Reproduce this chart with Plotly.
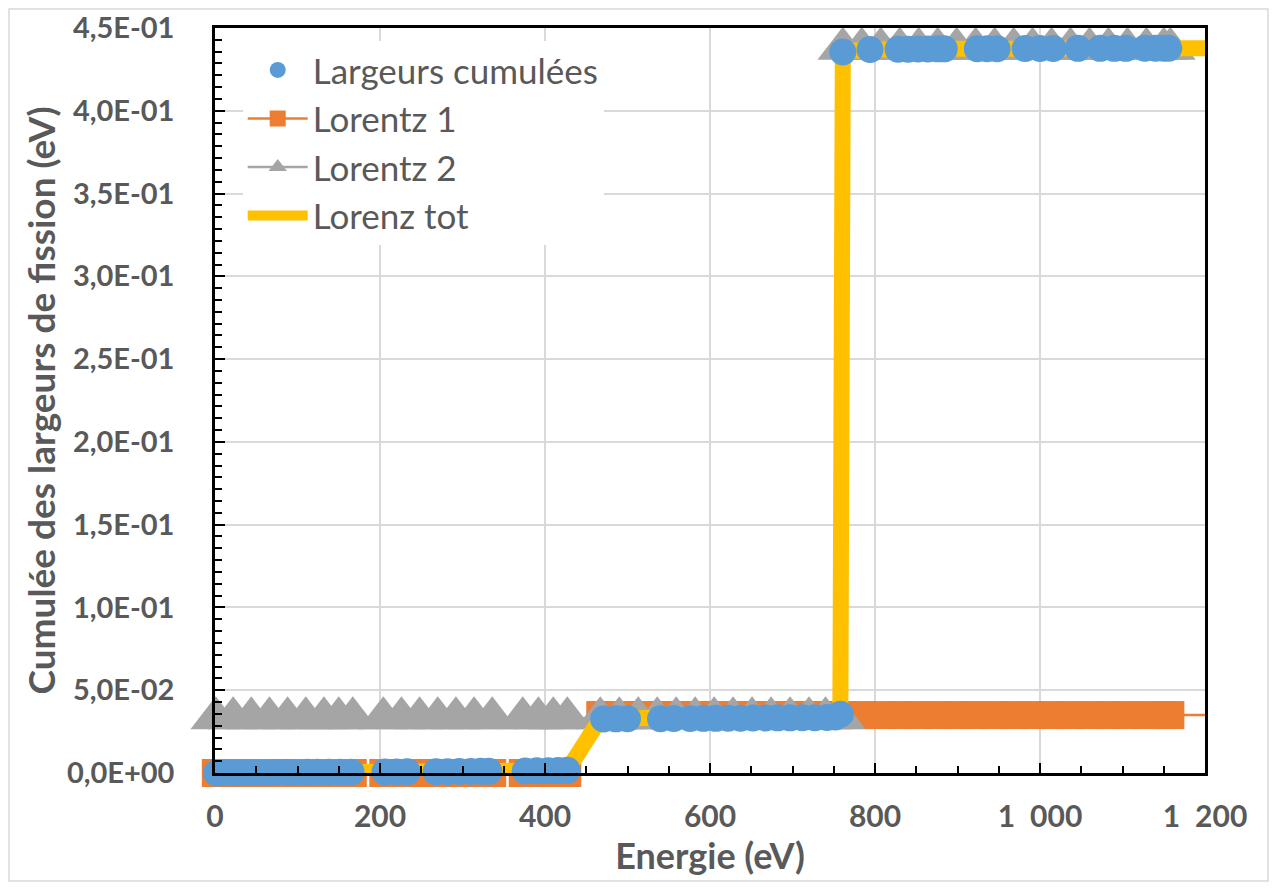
import plotly.graph_objects as go

# ---------------- data ----------------
# Largeurs cumulées (blue circles): resonance energies (eV) and cumulative fission widths (eV)
E_cum = [2, 12, 24, 36, 48, 60, 72, 86, 98, 112, 124, 138, 152, 165,
         206, 220, 233, 268, 282, 296, 310, 322, 332,
         376, 390, 404, 416, 427,
         471, 486, 500, 540, 556, 576, 592, 607, 622, 637, 652, 667, 682, 697, 712, 727, 742, 752, 758,
         761, 794, 828, 840, 852, 864, 876, 884, 924, 936, 948, 982, 1000, 1016, 1046, 1073, 1090,
         1104, 1127, 1140, 1150, 1156]
cum = [0.0000, 0.0001, 0.0001, 0.0002, 0.0002, 0.0002, 0.0003, 0.0003, 0.0003, 0.0004, 0.0004, 0.0004, 0.0005, 0.0005,
       0.0006, 0.0006, 0.0007, 0.0008, 0.0008, 0.0009, 0.0009, 0.0010, 0.0010,
       0.0012, 0.0013, 0.0014, 0.0015, 0.0016,
       0.0326, 0.0327, 0.0328, 0.0328, 0.0329, 0.0329, 0.0330, 0.0330, 0.0331, 0.0331, 0.0332, 0.0332,
       0.0333, 0.0333, 0.0334, 0.0334, 0.0335, 0.0338, 0.0355,
       0.4355, 0.4370, 0.4372, 0.4372, 0.4373, 0.4373, 0.4374, 0.4374, 0.4375, 0.4375, 0.4375, 0.4376,
       0.4376, 0.4376, 0.4377, 0.4377, 0.4377, 0.4377, 0.4378, 0.4378, 0.4378, 0.4378]

# Lorentz curves evaluated on an energy grid (eV)
E_lor = [1, 22, 44, 66, 88, 110, 132, 150, 167,
         204, 226, 248, 270, 292, 314, 336,
         373, 392, 410, 427,
         467, 490, 513, 536, 559, 582, 605, 628, 651, 674, 697, 720, 740, 758,
         761, 784, 807, 830, 853, 876, 899, 922, 945, 968, 991, 1014, 1037, 1060, 1083, 1106, 1129, 1150, 1158,
         1250]
lorentz1 = [0.0, 0.0, 0.0, 0.0, 0.0, 0.0, 0.0, 0.0, 0.0,
            0.0, 0.0, 0.0, 0.0, 0.0, 0.0, 0.0,
            0.0, 0.0, 0.0, 0.0,
            0.035, 0.035, 0.035, 0.035, 0.035, 0.035, 0.035, 0.035, 0.035, 0.035, 0.035, 0.035, 0.035, 0.035,
            0.035, 0.035, 0.035, 0.035, 0.035, 0.035, 0.035, 0.035, 0.035, 0.035, 0.035, 0.035, 0.035, 0.035,
            0.035, 0.035, 0.035, 0.035, 0.035,
            0.035]
lorentz2 = [0.033, 0.033, 0.033, 0.033, 0.033, 0.033, 0.033, 0.033, 0.033,
            0.033, 0.033, 0.033, 0.033, 0.033, 0.033, 0.033,
            0.033, 0.033, 0.033, 0.033,
            0.033, 0.033, 0.033, 0.033, 0.033, 0.033, 0.033, 0.033, 0.033, 0.033, 0.033, 0.033, 0.033, 0.033,
            0.4375, 0.4375, 0.4375, 0.4375, 0.4375, 0.4375, 0.4375, 0.4375, 0.4375, 0.4375, 0.4375, 0.4375,
            0.4375, 0.4375, 0.4375, 0.4375, 0.4375, 0.4375, 0.4375,
            None]
lorenz_tot = [0.0, 0.0001, 0.0002, 0.0002, 0.0003, 0.0003, 0.0004, 0.0004, 0.0005,
              0.0006, 0.0007, 0.0008, 0.0008, 0.0009, 0.0010, 0.0010,
              0.0012, 0.0013, 0.0015, 0.0016,
              0.0327, 0.0328, 0.0328, 0.0329, 0.0329, 0.0330, 0.0330, 0.0331, 0.0332, 0.0332, 0.0333, 0.0334,
              0.0336, 0.0355,
              0.4360, 0.4372, 0.4373, 0.4374, 0.4374, 0.4375, 0.4375, 0.4375, 0.4375, 0.4376, 0.4376, 0.4376,
              0.4377, 0.4377, 0.4377, 0.4378, 0.4378, 0.4378, 0.4378,
              0.4378]

x_tick_vals = [0, 200, 400, 600, 800, 1000, 1200]
x_tick_text = ["0", "200", "400", "600", "800", "1\u2002000", "1\u2002200"]
y_tick_vals = [0.0, 0.05, 0.10, 0.15, 0.20, 0.25, 0.30, 0.35, 0.40, 0.45]
y_tick_text = ["0,0E+00", "5,0E-02", "1,0E-01", "1,5E-01", "2,0E-01",
               "2,5E-01", "3,0E-01", "3,5E-01", "4,0E-01", "4,5E-01"]

# ---------------- style ----------------
BLUE = "#5B9BD5"
ORANGE = "#ED7D31"
GRAY = "#A5A5A5"
YELLOW = "#FFC000"
TXT = "#595959"
FONT = "Lato"

X_MAX = 1200
sq_sizes = [28 if e <= X_MAX else 0 for e in E_lor]

fig = go.Figure()

fig.add_trace(go.Scatter(
    x=E_lor, y=lorentz1, name="Lorentz 1", mode="lines+markers",
    line=dict(color=ORANGE, width=2.5),
    marker=dict(symbol="square", size=sq_sizes, color=ORANGE, opacity=1, line=dict(width=0)),
    cliponaxis=False, legendrank=2))

fig.add_trace(go.Scatter(
    x=E_lor, y=lorentz2, name="Lorentz 2", mode="lines+markers",
    line=dict(color=GRAY, width=2.5),
    marker=dict(symbol="triangle-up", size=44, color=GRAY, opacity=1, line=dict(width=0)),
    cliponaxis=False, connectgaps=False, legendrank=3))

fig.add_trace(go.Scatter(
    x=E_lor, y=lorenz_tot, name="Lorenz tot", mode="lines",
    line=dict(color=YELLOW, width=16),
    legendrank=4))

fig.add_trace(go.Scatter(
    x=E_cum, y=cum, name="Largeurs cumulées", mode="markers",
    marker=dict(symbol="circle", size=27, color=BLUE, opacity=1, line=dict(width=0)),
    cliponaxis=False, legendrank=1))

axis_common = dict(
    showline=True, linecolor="black", linewidth=2.5, mirror=True,
    showgrid=True, gridcolor="#D9D9D9", gridwidth=2, zeroline=False,
    ticks="inside", ticklen=10, tickwidth=2, tickcolor="black",
)

fig.update_xaxes(
    range=[0, X_MAX], tickmode="array", tickvals=x_tick_vals, ticktext=x_tick_text,
    tickfont=dict(family=FONT, size=30, color=TXT, weight="bold"),
    title=dict(text="Energie (eV)", font=dict(family=FONT, size=36, color=TXT, weight="bold"), standoff=0),
    minor=dict(tickmode="linear", tick0=0, dtick=50, ticks="inside", ticklen=7,
               tickwidth=2, tickcolor="black", showgrid=False),
    ticklabelstandoff=15,
    **axis_common)

fig.update_yaxes(
    range=[0, 0.45], tickmode="array", tickvals=y_tick_vals, ticktext=y_tick_text,
    tickfont=dict(family=FONT, size=29, color=TXT, weight="bold"),
    title=dict(text="Cumulée des largeurs de fission (eV)",
               font=dict(family=FONT, size=37, color=TXT, weight="bold"), standoff=0),
    minor=dict(tickmode="linear", tick0=0, dtick=0.05 / 7, ticks="inside", ticklen=7,
               tickwidth=2, tickcolor="black", showgrid=False),
    ticklabelstandoff=32,
    **axis_common)

W, H = 1261, 874
L, T = 207, 20
R, B = W - 1197, H - 765
pw, ph = W - L - R, H - T - B

fig.update_layout(
    width=W, height=H,
    margin=dict(l=L, r=R, t=T, b=B, autoexpand=False),
    paper_bgcolor="white", plot_bgcolor="white",
    font=dict(family=FONT, color=TXT),
    legend=dict(x=0.028, y=0.983, xanchor="left", yanchor="top",
                bgcolor="white", borderwidth=0, itemwidth=60,
                font=dict(family=FONT, size=35, color=TXT),
                tracegroupgap=0),
    shapes=[dict(type="rect", xref="paper", yref="paper",
                 x0=(1 - L) / pw, x1=(W - 1 - L) / pw,
                 y0=(H - B - (H - 1)) / ph, y1=(H - B - 1) / ph,
                 line=dict(color="#D9D9D9", width=1.5), layer="below")],
)

fig.write_html("out.html")
